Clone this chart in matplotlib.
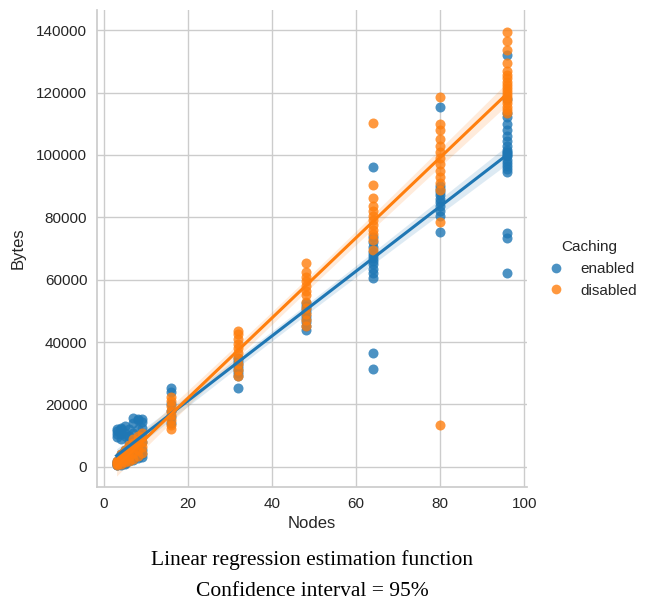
import numpy as np
import matplotlib
matplotlib.use("Agg")
import matplotlib.pyplot as plt
from matplotlib.lines import Line2D

plt.rcParams['font.family'] = ['Liberation Sans', 'DejaVu Sans']

nodes = [3, 4, 5, 6, 7, 8, 9, 16, 32, 48, 64, 80, 96]

enabled_bytes = [
    [500, 700, 1000, 1200, 1500, 2000, 9500, 10500, 11500, 12000],
    [700, 900, 1200, 1500, 2500, 4000, 9000, 10500, 12000, 12500],
    [1000, 1200, 1700, 2500, 3500, 5500, 10000, 11000, 13000],
    [1800, 2300, 3000, 5000, 6500, 8000, 10000, 12000],
    [2200, 3000, 4000, 6000, 8000, 11000, 14000, 15800],
    [2800, 3800, 5000, 7000, 9000, 12000, 15000, 15500],
    [3300, 4200, 5500, 8000, 10000, 12500, 14500, 15500],
    [14000, 16000, 18000, 20000, 24000, 25300],
    [25300, 29000, 30000, 31000, 32000, 33000, 34000, 35000],
    [44000, 45000, 46500, 47500, 48500, 49500, 50500, 51500, 52500],
    [31400, 36600, 60500, 62000, 63500, 65000, 66000, 67000, 68000, 69000,
     70500, 72000, 73700, 96200],
    [75300, 80500, 82000, 83500, 85000, 86000, 87000, 88000, 89000, 90000, 115500],
    [62300, 73500, 75000, 94500, 95500, 96500, 97500, 98500, 99500, 100000,
     100500, 101000, 101500, 103000, 104500, 106000, 108000, 110000, 112000,
     113500, 118000, 132000],
]

disabled_bytes = [
    [500, 800, 1200, 1500, 2000],
    [1000, 1800, 2500, 3200, 4000],
    [1500, 2500, 3500, 4500, 5500],
    [2000, 3500, 5000, 6000, 7000],
    [2500, 4500, 6000, 7500, 9000],
    [3500, 5500, 7000, 8500, 10000],
    [4500, 6500, 8000, 9500, 11000],
    [12000, 13500, 15000, 16500, 18000, 19500, 21000, 22400],
    [29000, 31000, 33000, 35000, 36500, 38000, 39500, 41000, 42500, 43500],
    [45000, 47000, 49000, 51000, 53000, 55000, 56500, 58000, 59500, 61000,
     62500, 65300],
    [69500, 72700, 74500, 76000, 77500, 79000, 80500, 82000, 83500, 86100,
     90300, 110300],
    [13500, 78500, 88700, 91000, 93000, 95000, 97000, 99000, 101000, 103000,
     105000, 108000, 110000, 118500],
    [113400, 114500, 115500, 116500, 117500, 118500, 119500, 120500, 121500,
     122500, 123500, 124500, 125500, 127000, 129500, 133500, 136500, 139500],
]

groups = ["enabled", "disabled"]
colors = ["#1f77b4", "#ff7f0e"]

fig = plt.figure(figsize=(6.48, 6.04), dpi=100)
ax = fig.add_axes([97/648, 1-487/604, 430/648, 477/604])

text_color = "#262626"

for name, data, col in zip(groups, [enabled_bytes, disabled_bytes], colors):
    xs = np.concatenate([[n]*len(v) for n, v in zip(nodes, data)]).astype(float)
    ys = np.concatenate([v for v in data]).astype(float)
    ax.scatter(xs, ys, s=52, color=col, alpha=0.8, linewidths=0, zorder=3)
    b, a = np.polyfit(xs, ys, 1)
    grid = np.linspace(xs.min(), xs.max(), 100)
    yhat = a + b*grid
    n = len(xs)
    resid = ys - (a + b*xs)
    se = np.sqrt(np.sum(resid**2)/(n-2))
    sxx = np.sum((xs-xs.mean())**2)
    band = 1.97*se*np.sqrt(1/n + (grid-xs.mean())**2/sxx)
    ax.fill_between(grid, yhat-band, yhat+band, color=col, alpha=0.15, lw=0, zorder=2)
    ax.plot(grid, yhat, color=col, lw=2.2, zorder=4)

ax.set_xlim(-1.65, 100.65)
ax.set_ylim(-6450, 146450)
ax.set_xticks([0, 20, 40, 60, 80, 100])
ax.set_yticks(np.arange(0, 140001, 20000))
ax.grid(True, color="#cccccc", lw=1)
ax.set_axisbelow(True)
for s in ["top", "right"]:
    ax.spines[s].set_visible(False)
for s in ["left", "bottom"]:
    ax.spines[s].set_color("#cccccc")
    ax.spines[s].set_linewidth(1.25)
ax.tick_params(length=0, labelsize=11, colors=text_color, pad=7)
ax.set_xlabel("Nodes", fontsize=12, color=text_color, labelpad=4)
ax.set_ylabel("Bytes", fontsize=12, color=text_color, labelpad=8)

handles = [Line2D([], [], marker="o", ls="", color=c, alpha=0.8, markersize=7,
                  markeredgewidth=0) for c in colors]
leg = fig.legend(handles, groups, title="Caching", loc="center left",
                 bbox_to_anchor=(527/648, 1-269/604), frameon=False,
                 fontsize=11, title_fontsize=11, handletextpad=0.6)
for t in leg.get_texts():
    t.set_color(text_color)
leg.get_title().set_color(text_color)

fig.text(312/648, 1-560/604, "Linear regression estimation function",
         ha="center", va="center", fontsize=15.5, family="Liberation Serif")
fig.text(312/648, 1-592/604, "Confidence interval = 95%",
         ha="center", va="center", fontsize=15.5, family="Liberation Serif")

fig.savefig("out.png", dpi=100)
